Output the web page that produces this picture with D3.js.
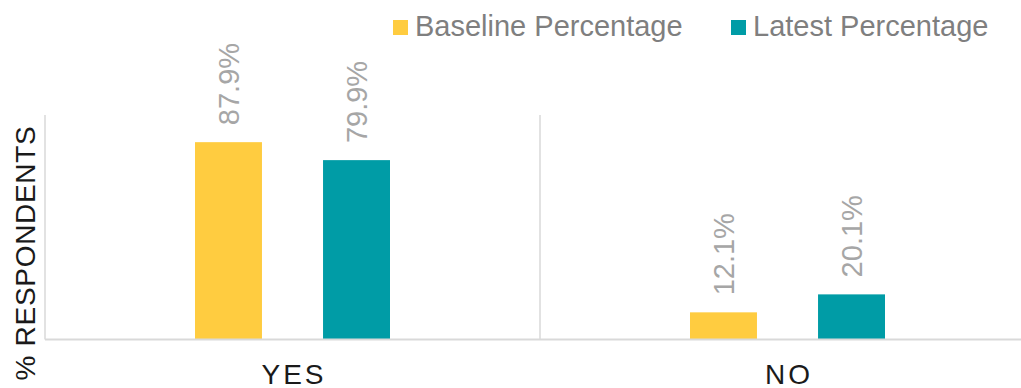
<!DOCTYPE html>
<html>
<head>
<meta charset="utf-8">
<script src="https://cdn.jsdelivr.net/npm/d3@7"></script>
<style>
  html, body { margin: 0; padding: 0; background: #fff; }
  svg { display: block; font-family: "Liberation Sans", Arial, sans-serif; }
</style>
</head>
<body>
<div id="chart"></div>
<script>
//Chart data
var categories = ["YES", "NO"];
var seriesNames = ["Baseline Percentage", "Latest Percentage"];
var baselineValues = [87.9, 12.1];
var latestValues = [79.9, 20.1];
var seriesColors = ["#FFCC40", "#009CA6"];

//Canvas size
var w = 1021, h = 388;
var plot = {left: 45, right: 1035, top: 115, bottom: 339.5};

var svg = d3.select("#chart").append("svg")
	.attr("width", w)
	.attr("height", h);

//Scales
var x0 = d3.scaleBand().domain(categories).range([plot.left, plot.right]).padding(0);
var x1 = d3.scaleBand().domain(seriesNames).range([150, 345]).paddingInner(0.477).paddingOuter(0);
var y = d3.scaleLinear().domain([0, 100]).range([plot.bottom, plot.top]);

var rows = categories.map(function(c, i) {
	return {cat: c, vals: [
		{name: seriesNames[0], v: baselineValues[i], color: seriesColors[0]},
		{name: seriesNames[1], v: latestValues[i], color: seriesColors[1]}
	]};
});

//Gridlines: left axis and category separators
svg.append("g").selectAll("line")
	.data(categories)
	.enter().append("line")
	.attr("x1", function(d) { return x0(d); })
	.attr("x2", function(d) { return x0(d); })
	.attr("y1", y(100))
	.attr("y2", y(0))
	.attr("stroke", "#d9d9d9")
	.attr("stroke-width", 1.5);

//Bars
var groups = svg.append("g").selectAll("g")
	.data(rows)
	.enter().append("g")
	.attr("transform", function(d) { return "translate(" + x0(d.cat) + ",0)"; });

groups.selectAll("rect")
	.data(function(d) { return d.vals; })
	.enter().append("rect")
	.attr("x", function(d) { return x1(d.name); })
	.attr("width", x1.bandwidth())
	.attr("y", function(d) { return y(d.v); })
	.attr("height", function(d) { return y(0) - y(d.v); })
	.attr("fill", function(d) { return d.color; });

//Data labels (rotated)
groups.selectAll("text")
	.data(function(d) { return d.vals; })
	.enter().append("text")
	.attr("transform", function(d) {
		return "translate(" + (x1(d.name) + x1.bandwidth() / 2) + "," + (y(d.v) - 17) + ") rotate(-90)";
	})
	.attr("dy", "0.36em")
	.attr("fill", "#a6a6a6")
	.style("font-size", "29px")
	.text(function(d) { return d.v.toFixed(1) + "%"; });

//Baseline (x axis)
svg.append("line")
	.attr("x1", plot.left).attr("x2", w)
	.attr("y1", y(0)).attr("y2", y(0))
	.attr("stroke", "#d9d9d9")
	.attr("stroke-width", 2);

//Category labels
svg.append("g").selectAll("text")
	.data(categories)
	.enter().append("text")
	.attr("x", function(d) { return x0(d) + x0.bandwidth() / 2 + 1.5; })
	.attr("y", 384)
	.attr("text-anchor", "middle")
	.attr("fill", "#1a1a1a")
	.style("font-size", "28px")
	.style("letter-spacing", "3px")
	.text(function(d) { return d; });

//Y axis title
svg.append("text")
	.attr("transform", "translate(35," + 253 + ") rotate(-90)")
	.attr("text-anchor", "middle")
	.attr("fill", "#1a1a1a")
	.style("font-size", "28px")
	.style("letter-spacing", "0.7px")
	.text("% RESPONDENTS");

//Legend
var legendX = [393, 731];
var legend = svg.append("g").selectAll("g")
	.data(seriesNames)
	.enter().append("g")
	.attr("transform", function(d, i) { return "translate(" + legendX[i] + ",20)"; });

legend.append("rect")
	.attr("width", 15).attr("height", 15)
	.attr("fill", function(d, i) { return seriesColors[i]; });

legend.append("text")
	.attr("x", 22)
	.attr("y", 16)
	.attr("fill", "#7f7f7f")
	.style("font-size", "29px")
	.text(function(d) { return d; });
</script>
</body>
</html>
